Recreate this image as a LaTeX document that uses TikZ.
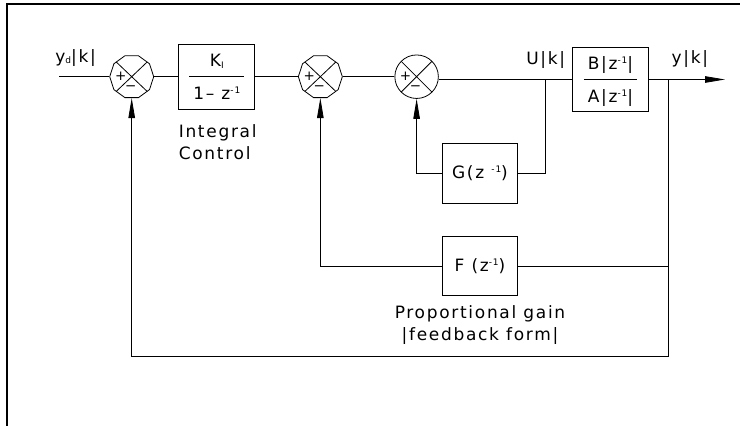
\documentclass[tikz,border=0pt]{standalone}
\usepackage{fontspec}
\setmainfont{DejaVu Sans}[LetterSpace=10]
\usetikzlibrary{arrows.meta,positioning,shapes.geometric}
\setlength{\arrayrulewidth}{0.8pt}
\newcommand{\supx}[1]{\raisebox{6pt}{\fontsize{9}{9}\selectfont #1}}
\newcommand{\subx}[1]{\raisebox{-1.5pt}{\fontsize{9}{9}\selectfont #1}}
\newcommand{\ratio}[2]{\renewcommand{\arraystretch}{1.45}\begin{tabular}{@{\hspace{4pt}}c@{\hspace{4pt}}}#1\\\hline #2\end{tabular}}

\begin{document}
\begin{tikzpicture}[
    x=1pt, y=1pt,
    line width=0.8pt,
    every node/.style={font=\fontsize{17}{22}\selectfont},
    tag/.style={inner sep=0pt},
    sign/.style={anchor=center, inner sep=0pt, font=\fontsize{13.5}{13.5}\selectfont},
    crossed/.style={path picture={
        \draw (path picture bounding box.north west) -- (path picture bounding box.south east)
              (path picture bounding box.north east) -- (path picture bounding box.south west);
        \node[sign] at ([shift={(-11pt,0pt)}]path picture bounding box.center) {+};
        \node[sign] at ([shift={(-1pt,-11pt)}]path picture bounding box.center) {−};}},
    summer/.style={regular polygon, regular polygon sides=10, draw, minimum size=44pt, inner sep=0pt, crossed},
    junction/.style={circle, draw, minimum size=43.5pt, inner sep=0pt, crossed},
    fracbox/.style={draw, minimum width=76pt, minimum height=58pt, inner sep=0pt},
    gainbox/.style={draw, minimum width=74.6pt, minimum height=59.3pt, inner sep=0pt},
    flow/.style={-{Triangle[length=20pt,width=6.5pt]}},
    sheetedge/.style={line width=2pt}
]
\useasboundingbox (0,0) rectangle (740,426);
\draw[sheetedge] (740,422) -- (7,422) -- (7,0);

% forward path
\node[summer] (sum1) at (131.7,349.3) {};
\node[fracbox, right=24.3pt of sum1] (integ) {\ratio{K\subx{I}}{1– z\supx{-1}}};
\node[summer, right=42.7pt of integ] (sum2) {};
\node[junction, right=51.7pt of sum2] (sum3) {};
\node[fracbox] (plant) at (610.5,346.5) {\ratio{B|z\supx{-1}|}{A|z\supx{-1}|}};

% feedback blocks
\node[gainbox] (gfb) at (480,252.5) {G(z \supx{-1})};
\node[gainbox, below=32.4pt of gfb] (ffb) {F (z\supx{-1})};

\coordinate (input) at (59,349.3);
\coordinate (ubranch) at (545.7,346.6);
\coordinate (ybranch) at (668.3,346.5);
\coordinate (output) at (725,346.5);
\coordinate (loopcorner) at (668.3,69.3);

\draw (input) -- (sum1.west);
\draw (sum1.east) -- (integ.west);
\draw (integ.east) -- (sum2.west);
\draw (sum2.east) -- (sum3.west);
\draw (sum3.-7) -- (sum3.-7 -| plant.west);
\draw[flow] (plant.east) -- (output);
\draw (ubranch) |- (gfb.east);
\draw[flow] (gfb.west) -| (sum3.south);
\draw (ybranch |- ffb.east) -- (ffb.east);
\draw[flow] (ffb.west) -| (sum2.south);
\draw (ybranch) -- (loopcorner);
\draw[flow] (loopcorner) -| (sum1.south);

% labels
\node[tag, anchor=base west] (ydlabel) at ([shift={(-4pt,14.5pt)}]input) {y\subx{d}|k|};
\node[tag, anchor=base] (ulabel) at ([yshift=15pt]ubranch) {U|k|};
\node[tag, anchor=base west] (ylabel) at ([shift={(3pt,15.5pt)}]ybranch) {y|k|};
\node[tag, below=15pt of integ.south west, anchor=north west, align=left] (integlabel) {Integral\\Control};
\node[tag, below=9pt of ffb, align=center] (ffblabel) {Proportional gain\\|feedback form|};
\end{tikzpicture}
\end{document}
